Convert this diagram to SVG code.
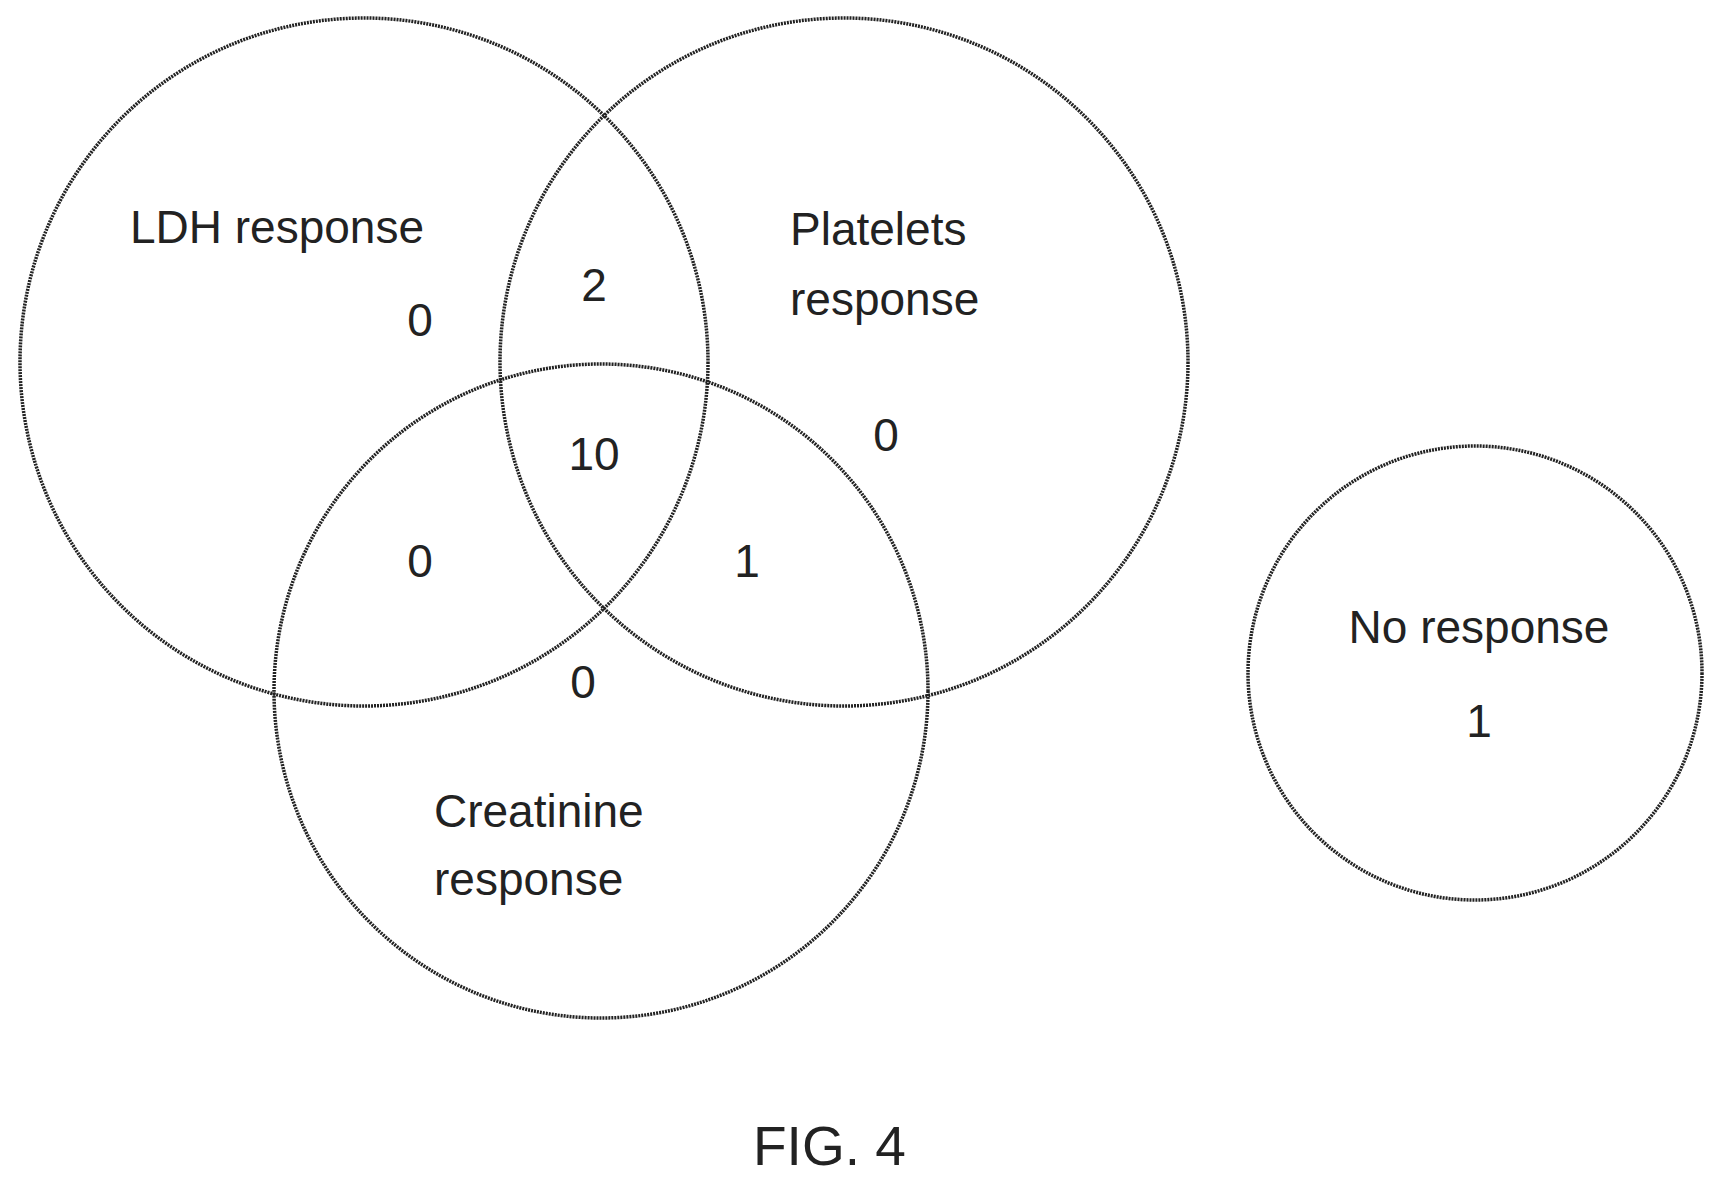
<svg xmlns="http://www.w3.org/2000/svg" width="1724" height="1187" viewBox="0 0 1724 1187">
<style>
.c{fill:none;stroke:#222;stroke-width:3.5;stroke-dasharray:2 1}
text{font-family:"Liberation Sans",Arial,sans-serif;font-size:46px;fill:#222}
.m{text-anchor:middle}
</style>
<rect width="1724" height="1187" fill="#fff"/>
<g id="ldh"><circle class="c" cx="364" cy="362" r="344"/><text x="130" y="243">LDH response</text><text class="m" x="420" y="336">0</text></g>
<g id="platelets"><circle class="c" cx="844" cy="362" r="344"/><text x="790" y="245">Platelets</text><text x="790" y="315">response</text><text class="m" x="886" y="451">0</text></g>
<g id="creatinine"><circle class="c" cx="601" cy="691" r="327"/><text x="434" y="827">Creatinine</text><text x="434" y="895">response</text><text class="m" x="583" y="698">0</text></g>
<g id="overlaps"><text class="m" x="594" y="301">2</text><text class="m" x="594" y="470">10</text><text class="m" x="420" y="577">0</text><text class="m" x="747" y="577">1</text></g>
<g id="noresponse"><circle class="c" cx="1475" cy="673" r="227"/><text class="m" x="1479" y="643">No response</text><text class="m" x="1479" y="737">1</text></g>
<g id="connectors"></g>
<text x="753" y="1165" style="font-size:55px">FIG. 4</text>
</svg>
